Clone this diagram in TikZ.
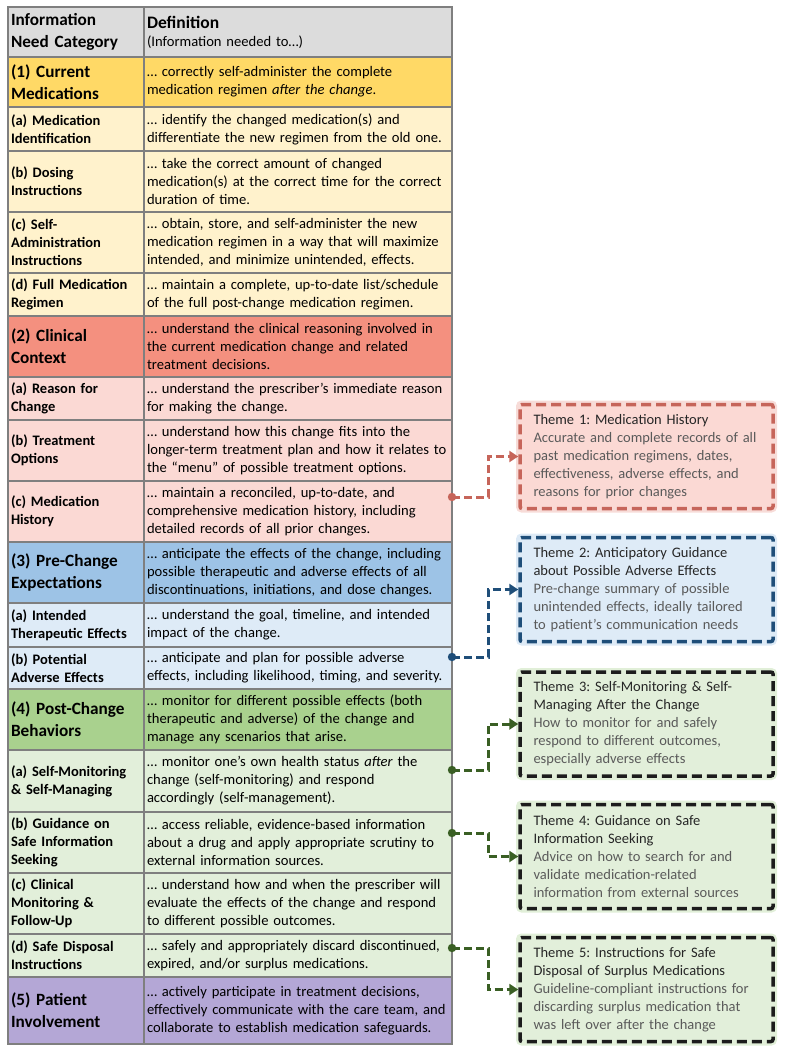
\documentclass[tikz,border=0pt]{standalone}
\usepackage{fontspec}
\setmainfont{Carlito}
\frenchspacing
\usetikzlibrary{arrows.meta,positioning}
\definecolor{gridgrey}{HTML}{7F7F7F}
\definecolor{headgrey}{HTML}{DCDCDC}
\definecolor{secA}{HTML}{FFD966}
\definecolor{subA}{HTML}{FFF2CC}
\definecolor{secB}{HTML}{F4907F}
\definecolor{subB}{HTML}{FBD9D4}
\definecolor{secC}{HTML}{9DC3E6}
\definecolor{subC}{HTML}{DEEBF7}
\definecolor{secD}{HTML}{A9D18E}
\definecolor{subD}{HTML}{E2EFDA}
\definecolor{secE}{HTML}{B4A7D6}
\definecolor{redline}{HTML}{C6655A}
\definecolor{redglow}{HTML}{F2C4BE}
\definecolor{blueline}{HTML}{1F4E79}
\definecolor{blueglow}{HTML}{C6DCF0}
\definecolor{greenline}{HTML}{3A5F24}
\definecolor{greenglow}{HTML}{CDE4BE}
\definecolor{darkbox}{HTML}{1C1C1C}
\definecolor{titletext}{HTML}{262626}
\definecolor{bodytext}{HTML}{5A5A5A}
\tikzset{
  cell/.style={draw=gridgrey,line width=2pt,anchor=north west,outer sep=0pt,
    inner xsep=3pt,inner ysep=1pt,align=left},
  catcell/.style={cell,text width=130pt,font=\fontsize{14.5}{18}\selectfont\bfseries},
  seccell/.style={cell,text width=130pt,font=\fontsize{17.2}{22}\selectfont\bfseries},
  defcell/.style={cell,text width=302pt,font=\fontsize{14.6}{18}\selectfont},
  themebox/.style 2 args={draw=#1,fill=#2,line width=3.5pt,dash pattern=on 10pt off 5pt,
    rounded corners=2pt,minimum width=253pt,minimum height=104pt,text width=226pt,
    inner xsep=13.5pt,align=left,text=titletext,font=\fontsize{14.5}{18}\selectfont},
  glow/.style={preaction={draw=#1,line width=8pt,solid,opacity=0.6}},
  link/.style={line width=3pt,dash pattern=on 8pt off 4pt,-{Triangle[length=9pt,width=11pt]}}
}

\begin{document}
\begin{tikzpicture}[x=1pt,y=-1pt]
\useasboundingbox (0,0) rectangle (786,1055);
% table
\node (cat0) [seccell,fill=headgrey,minimum height=50pt] at (8,7) {Information\\Need Category};
\node (def0) [defcell,fill=headgrey,minimum height=50pt] at (cat0.north east) {{\fontsize{17.5}{19}\selectfont\bfseries Definition}\\(Information needed to…)};
%
\node (cat1) [seccell,fill=secA,minimum height=50pt] at (cat0.south west) {(1) Current\\Medications};
\node (def1) [defcell,fill=secA,minimum height=50pt] at (cat1.north east) {… correctly self-administer the complete\\medication regimen \textit{after the change}.};
\node (cat1a) [catcell,fill=subA,minimum height=44pt] at (cat1.south west) {(a) Medication\\Identification};
\node (def1a) [defcell,fill=subA,minimum height=44pt] at (cat1a.north east) {… identify the changed medication(s) and\\differentiate the new regimen from the old one.};
\node (cat1b) [catcell,fill=subA,minimum height=61pt] at (cat1a.south west) {(b) Dosing\\Instructions};
\node (def1b) [defcell,fill=subA,minimum height=61pt] at (cat1b.north east) {… take the correct amount of changed\\medication(s) at the correct time for the correct\\duration of time.};
\node (cat1c) [catcell,fill=subA,minimum height=61pt] at (cat1b.south west) {(c) Self-\\Administration\\Instructions};
\node (def1c) [defcell,fill=subA,minimum height=61pt] at (cat1c.north east) {… obtain, store, and self-administer the new\\medication regimen in a way that will maximize\\intended, and minimize unintended, effects.};
\node (cat1d) [catcell,fill=subA,minimum height=43pt] at (cat1c.south west) {(d) Full Medication\\Regimen};
\node (def1d) [defcell,fill=subA,minimum height=43pt] at (cat1d.north east) {… maintain a complete, up-to-date list/schedule\\of the full post-change medication regimen.};
%
\node (cat2) [seccell,fill=secB,minimum height=61pt] at (cat1d.south west) {(2) Clinical\\Context};
\node (def2) [defcell,fill=secB,minimum height=61pt] at (cat2.north east) {… understand the clinical reasoning involved in\\the current medication change and related\\treatment decisions.};
\node (cat2a) [catcell,fill=subB,minimum height=43pt] at (cat2.south west) {(a) Reason for\\Change};
\node (def2a) [defcell,fill=subB,minimum height=43pt] at (cat2a.north east) {… understand the prescriber’s immediate reason\\for making the change.};
\node (cat2b) [catcell,fill=subB,minimum height=61pt] at (cat2a.south west) {(b) Treatment\\Options};
\node (def2b) [defcell,fill=subB,minimum height=61pt] at (cat2b.north east) {… understand how this change fits into the\\longer-term treatment plan and how it relates to\\the “menu” of possible treatment options.};
\node (cat2c) [catcell,fill=subB,minimum height=61pt] at (cat2b.south west) {(c) Medication\\History};
\node (def2c) [defcell,fill=subB,minimum height=61pt] at (cat2c.north east) {… maintain a reconciled, up-to-date, and\\comprehensive medication history, including\\detailed records of all prior changes.};
%
\node (cat3) [seccell,fill=secC,minimum height=61pt] at (cat2c.south west) {(3) Pre-Change\\Expectations};
\node (def3) [defcell,fill=secC,minimum height=61pt] at (cat3.north east) {… anticipate the effects of the change, including\\possible therapeutic and adverse effects of all\\discontinuations, initiations, and dose changes.};
\node (cat3a) [catcell,fill=subC,minimum height=44pt] at (cat3.south west) {(a) Intended\\Therapeutic Effects};
\node (def3a) [defcell,fill=subC,minimum height=44pt] at (cat3a.north east) {… understand the goal, timeline, and intended\\impact of the change.};
\node (cat3b) [catcell,fill=subC,minimum height=42pt] at (cat3a.south west) {(b) Potential\\Adverse Effects};
\node (def3b) [defcell,fill=subC,minimum height=42pt] at (cat3b.north east) {… anticipate and plan for possible adverse\\effects, including likelihood, timing, and severity.};
%
\node (cat4) [seccell,fill=secD,minimum height=61pt] at (cat3b.south west) {(4) Post-Change\\Behaviors};
\node (def4) [defcell,fill=secD,minimum height=61pt] at (cat4.north east) {… monitor for different possible effects (both\\therapeutic and adverse) of the change and\\manage any scenarios that arise.};
\node (cat4a) [catcell,fill=subD,minimum height=62pt] at (cat4.south west) {(a) Self-Monitoring\\\& Self-Managing};
\node (def4a) [defcell,fill=subD,minimum height=62pt] at (cat4a.north east) {… monitor one’s own health status \textit{after} the\\change (self-monitoring) and respond\\accordingly (self-management).};
\node (cat4b) [catcell,fill=subD,minimum height=61pt] at (cat4a.south west) {(b) Guidance on\\Safe Information\\Seeking};
\node (def4b) [defcell,fill=subD,minimum height=61pt] at (cat4b.north east) {… access reliable, evidence-based information\\about a drug and apply appropriate scrutiny to\\external information sources.};
\node (cat4c) [catcell,fill=subD,minimum height=61pt] at (cat4b.south west) {(c) Clinical\\Monitoring \&\\Follow-Up};
\node (def4c) [defcell,fill=subD,minimum height=61pt] at (cat4c.north east) {… understand how and when the prescriber will\\evaluate the effects of the change and respond\\to different possible outcomes.};
\node (cat4d) [catcell,fill=subD,minimum height=43pt] at (cat4c.south west) {(d) Safe Disposal\\Instructions};
\node (def4d) [defcell,fill=subD,minimum height=43pt] at (cat4d.north east) {… safely and appropriately discard discontinued,\\expired, and/or surplus medications.};
%
\node (cat5) [seccell,fill=secE,minimum height=67pt] at (cat4d.south west) {(5) Patient\\Involvement};
\node (def5) [defcell,fill=secE,minimum height=67pt] at (cat5.north east) {… actively participate in treatment decisions,\\effectively communicate with the care team, and\\collaborate to establish medication safeguards.};
%
% themes
\node (th1) [themebox={redline}{subB},glow=redglow] at (646.5,456.5) {Theme 1: Medication History\\\color{bodytext}Accurate and complete records of all\\past medication regimens, dates,\\effectiveness, adverse effects, and\\reasons for prior changes};
\node (th2) [themebox={blueline}{subC},glow=blueglow] at (646.5,589.5) {Theme 2: Anticipatory Guidance\\about Possible Adverse Effects\\\color{bodytext}Pre-change summary of possible\\unintended effects, ideally tailored\\to patient’s communication needs};
\node (th3) [themebox={darkbox}{subD},glow=greenglow] at (646.5,724) {Theme 3: Self-Monitoring \& Self-\\Managing After the Change\\\color{bodytext}How to monitor for and safely\\respond to different outcomes,\\especially adverse effects};
\node (th4) [themebox={darkbox}{subD},glow=greenglow] at (646.5,856.5) {Theme 4: Guidance on Safe\\Information Seeking\\\color{bodytext}Advice on how to search for and\\validate medication-related\\information from external sources};
\node (th5) [themebox={darkbox}{subD},glow=greenglow] at (646.5,989.5) {Theme 5: Instructions for Safe\\Disposal of Surplus Medications\\\color{bodytext}Guideline-compliant instructions for\\discarding surplus medication that\\was left over after the change};
%
% links
\fill[redline] ([yshift=-16pt]def2c.north east) circle (4.2pt);
\draw[link,redline] ([yshift=-16pt]def2c.north east) -- ([xshift=36pt,yshift=-16pt]def2c.north east) |- (th1.west);
\fill[blueline] ([yshift=-10pt]def3b.north east) circle (4.2pt);
\draw[link,blueline] ([yshift=-10pt]def3b.north east) -- ([xshift=36pt,yshift=-10pt]def3b.north east) |- (th2.west);
\fill[greenline] ([yshift=-20pt]def4a.north east) circle (4.2pt);
\draw[link,greenline] ([yshift=-20pt]def4a.north east) -- ([xshift=36pt,yshift=-20pt]def4a.north east) |- (th3.west);
\fill[greenline] ([yshift=-21pt]def4b.north east) circle (4.2pt);
\draw[link,greenline] ([yshift=-21pt]def4b.north east) -- ([xshift=36pt,yshift=-21pt]def4b.north east) |- (th4.west);
\fill[greenline] ([yshift=-14pt]def4d.north east) circle (4.2pt);
\draw[link,greenline] ([yshift=-14pt]def4d.north east) -- ([xshift=36pt,yshift=-14pt]def4d.north east) |- (th5.west);
\end{tikzpicture}
\end{document}
